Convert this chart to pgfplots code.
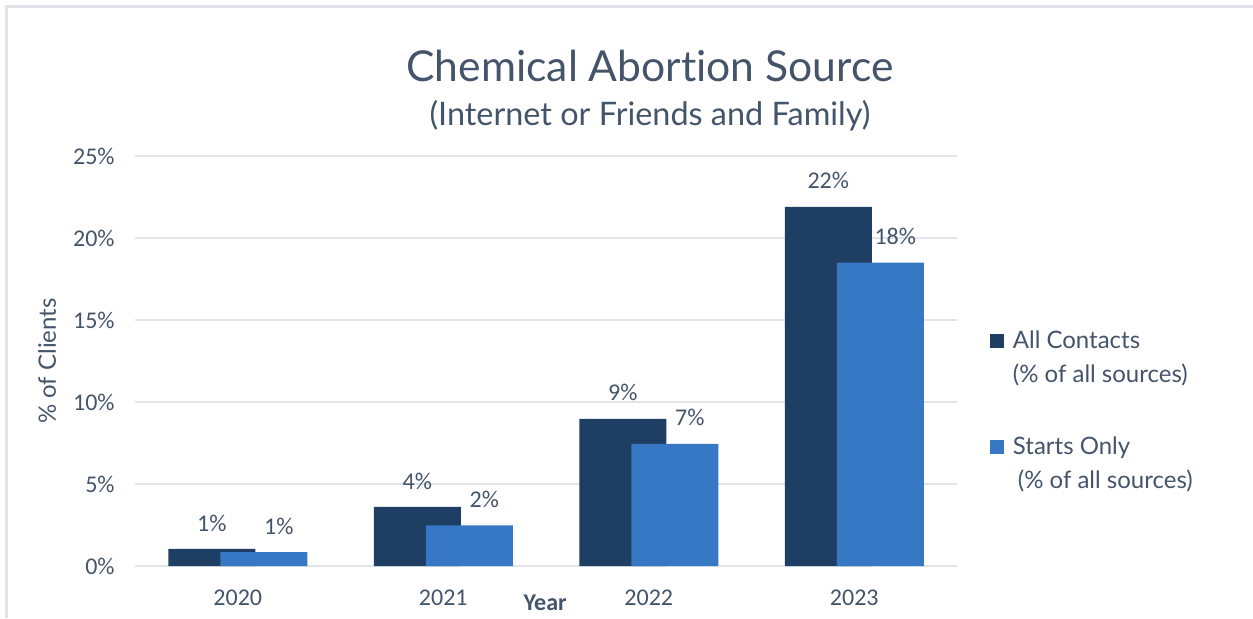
\documentclass[border=0pt]{standalone}
\usepackage{fontspec}
\setmainfont{Lato}[Ligatures=NoCommon]
\newfontfamily\carlito{Carlito}
\usepackage{pgfplots}
\pgfplotsset{compat=1.18}
\definecolor{darkbar}{HTML}{1F3E64}
\definecolor{lightbar}{HTML}{3778C4}
\definecolor{txt}{HTML}{44546A}
\definecolor{gridc}{HTML}{E1E5EA}
\begin{document}
\begin{tikzpicture}
\useasboundingbox (0,0) rectangle (626.5pt,309pt);
\draw[gridc, line width=1.2pt] (3.3pt,0) -- (3.3pt,305.7pt) -- (626.5pt,305.7pt);
\node[text=txt, font=\fontsize{21.3}{24}\selectfont] at (325pt,276pt) {Chemical Abortion Source};
\node[text=txt, font=\fontsize{16.2}{19}\selectfont] at (325pt,251pt) {(Internet or Friends and Family)};
\begin{axis}[
  at={(67.5pt,26pt)}, anchor=south west,
  width=411pt, height=205pt, scale only axis,
  xmin=-0.5, xmax=3.5, ymin=0, ymax=25,
  xtick={0,1,2,3}, xticklabels={2020,2021,2022,2023},
  ytick={0,5,10,15,20,25}, yticklabels={0\%,5\%,10\%,15\%,20\%,25\%},
  axis line style={draw=none},
  major tick length=0pt,
  ymajorgrids, grid style={gridc, line width=0.75pt},
  tick label style={text=txt, font=\carlito\fontsize{12}{14}\selectfont, inner sep=0pt},
  yticklabel style={xshift=-10pt},
  xticklabel style={yshift=-12pt},
  every axis y label/.style={at={(axis description cs:-0.107,0.5)}, rotate=90, anchor=center, text=txt, font=\fontsize{12}{14}\selectfont},
  every axis x label/.style={at={(axis description cs:0.499,-0.09)}, anchor=center, text=txt, font=\carlito\bfseries\fontsize{12}{14}\selectfont},
  ylabel={\% of Clients}, xlabel={Year},
  point meta=explicit symbolic,
  nodes near coords={\pgfplotspointmeta\%},
  every node near coord/.append style={anchor=center, text=txt, font=\carlito\fontsize{12}{14}\selectfont},
  legend style={draw=none, fill=none, at={(axis description cs:1.040,0.573)}, anchor=north west,
    font=\fontsize{12}{17}\selectfont, text=txt, inner sep=0pt, outer sep=0pt,
    nodes={inner sep=0pt, align=left}, row sep=25.5pt, column sep=4.5pt},
  legend cell align=left,
  legend image code/.code={\fill[#1] (0pt,5pt) rectangle (7pt,12pt);},
]
\addplot[ybar, bar width=43.5pt, bar shift=-13pt, fill=darkbar, draw=none,
  every node near coord/.append style={yshift=13pt, xshift=-13pt}]
  table[meta=lab] {
x y lab
0 1.04 1
1 3.6 4
2 8.97 9
3 21.9 22
};
\addlegendentry{All Contacts\\(\% of all sources)}
\addplot[ybar, bar width=43.5pt, bar shift=13pt, fill=lightbar, draw=none,
  every node near coord/.append style={yshift=13pt, xshift=20.5pt}]
  table[meta=lab] {
x y lab
0 0.85 1
1 2.48 2
2 7.45 7
3 18.5 18
};
\addlegendentry{Starts Only\\\hspace{2.5pt}(\% of all sources)}
\end{axis}
\end{tikzpicture}
\end{document}
